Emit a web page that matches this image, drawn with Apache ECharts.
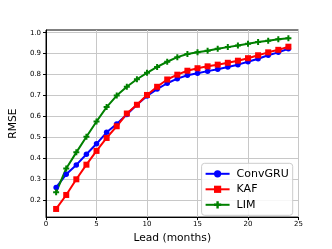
<!DOCTYPE html>
<html>
<head>
<meta charset="utf-8">
<script src="https://cdn.jsdelivr.net/npm/echarts@6/dist/echarts.min.js"></script>
<style>
html,body{margin:0;padding:0;background:#fff;}
#c{width:332px;height:249px;}
</style>
</head>
<body>
<div id="c"></div>
<script>
var leads = [1,2,3,4,5,6,7,8,9,10,11,12,13,14,15,16,17,18,19,20,21,22,23,24];
var convgru = [0.259,0.322,0.367,0.418,0.468,0.523,0.563,0.608,0.655,0.697,0.730,0.758,0.780,0.796,0.806,0.816,0.825,0.836,0.847,0.861,0.875,0.892,0.906,0.923];
var kaf = [0.156,0.223,0.298,0.368,0.434,0.496,0.552,0.613,0.655,0.702,0.741,0.776,0.799,0.818,0.830,0.839,0.847,0.856,0.866,0.878,0.892,0.906,0.918,0.933];
var lim = [0.236,0.350,0.427,0.502,0.575,0.644,0.699,0.741,0.777,0.808,0.836,0.861,0.883,0.898,0.906,0.914,0.923,0.931,0.939,0.947,0.955,0.962,0.969,0.973];
var xTicks = [0,5,10,15,20,25];
var yTicks = [0.2,0.3,0.4,0.5,0.6,0.7,0.8,0.9,1.0];

function pairs(ys){ return leads.map(function(x,i){ return [x, ys[i]]; }); }

var FONT = 'DejaVu Sans';
var plus = 'path://M-1,-3L1,-3L1,-1L3,-1L3,1L1,1L1,3L-1,3L-1,1L-3,1L-3,-1L-1,-1Z';

var chart = echarts.init(document.getElementById('c'), null, {renderer:'canvas'});
chart.setOption({
  animation: false,
  backgroundColor: '#fff',
  textStyle: {fontFamily: FONT},
  grid: {left: 42, right: 33.5, top: 30, bottom: 27.3, show: true, borderColor: '#000', borderWidth: 1, containLabel: false},
  xAxis: {
    type: 'value', min: 0, max: 25, interval: 5,
    name: 'Lead (months)', nameLocation: 'middle', nameGap: 13,
    nameTextStyle: {fontSize: 10.7, color: '#000', fontFamily: FONT},
    axisLine: {show: true, lineStyle: {color: '#000', width: 1}},
    axisTick: {show: true, length: 3, lineStyle: {color: '#000'}},
    axisLabel: {fontSize: 7, color: '#000', margin: 4, fontFamily: FONT, customValues: xTicks},
    splitLine: {show: true, lineStyle: {color: '#c8c8c8', width: 1}}
  },
  yAxis: {
    type: 'value', min: 0.117, max: 1.013,
    name: 'RMSE', nameLocation: 'middle', nameGap: 19,
    nameTextStyle: {fontSize: 10.7, color: '#000', fontFamily: FONT},
    axisLine: {show: true, lineStyle: {color: '#000', width: 1}},
    axisTick: {show: true, length: 3, lineStyle: {color: '#000'}, customValues: yTicks},
    axisLabel: {fontSize: 7, color: '#000', margin: 5, fontFamily: FONT, customValues: yTicks,
      formatter: function(v){ return v.toFixed(1); }},
    splitLine: {show: true, lineStyle: {color: '#c8c8c8', width: 1}}
  },
  legend: {
    right: 39.3, top: 163.3,
    orient: 'vertical',
    backgroundColor: 'rgba(255,255,255,0.85)',
    borderColor: '#cccccc', borderWidth: 1, borderRadius: 3,
    padding: [5, 4, 5, 3],
    itemGap: 4.5, itemWidth: 24, itemHeight: 9,
    textStyle: {fontSize: 11, color: '#000', fontFamily: FONT, padding: [0,0,0,2]},
    data: ['ConvGRU','KAF','LIM']
  },
  series: [
    {name: 'ConvGRU', type: 'line', data: pairs(convgru), color: '#0000ff',
     symbol: 'circle', symbolSize: 5.5, showAllSymbol: true,
     lineStyle: {width: 2}, itemStyle: {color: '#0000ff'}},
    {name: 'KAF', type: 'line', data: pairs(kaf), color: '#ff0000',
     symbol: 'rect', symbolSize: 6, showAllSymbol: true,
     lineStyle: {width: 2}, itemStyle: {color: '#ff0000'}},
    {name: 'LIM', type: 'line', data: pairs(lim), color: '#008000',
     symbol: plus, symbolSize: 6, showAllSymbol: true,
     lineStyle: {width: 2}, itemStyle: {color: '#008000'}}
  ]
});
</script>
</body>
</html>
